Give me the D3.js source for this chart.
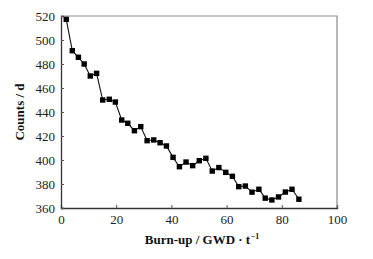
<!DOCTYPE html>
<html><head><meta charset="utf-8">
<script src="https://cdn.jsdelivr.net/npm/d3@7"></script>
<style>html,body{margin:0;padding:0;background:#fff;}svg{display:block;}</style>
</head><body>
<script>
const burnup = [1.9,4.1,6.3,8.4,10.6,12.9,15.1,17.5,19.7,22.0,24.2,26.6,28.9,31.2,33.6,35.9,38.2,40.6,42.9,45.3,47.7,50.1,52.5,54.8,57.2,59.7,62.1,64.4,66.8,69.2,71.7,74.0,76.4,78.8,81.3,83.7,86.2];
const counts = [517.2,491.1,485.6,480,470,472.2,450,450.6,448.3,433.3,430.6,424.4,427.8,416.1,416.7,414.4,411.7,402.2,394.4,398.3,395.3,399.4,401.4,390.8,393.7,389.7,386.4,377.8,378.3,373.2,375.6,368.2,366.7,369.2,373.3,375.6,367.3];
const xTicks = [0,20,40,60,80,100];
const yTicks = [360,380,400,420,440,460,480,500,520];
const xTitle = "Burn-up / GWD · t";
const yTitle = "Counts / d";

const W=373,H=259;
const m={l:61,r:36,t:16,b:51};
const svg=d3.select("body").append("svg").attr("width",W).attr("height",H);
const x=d3.scaleLinear().domain([0,100]).range([m.l,W-m.r]);
const y=d3.scaleLinear().domain([360,520]).range([H-m.b,m.t]);
const font="'Liberation Serif','Times New Roman',serif";

svg.append("path").attr("d",`M${x(0)},${y(520)}H${x(100)}V${y(360)}`).attr("fill","none").attr("stroke","#8a8a8a").attr("stroke-width",1.2);

const xa=svg.append("g").attr("transform",`translate(0,${y(360)})`)
  .call(d3.axisBottom(x).tickValues(xTicks).tickSize(-3).tickPadding(7).tickFormat(d3.format("d")));
const ya=svg.append("g").attr("transform",`translate(${x(0)},0)`)
  .call(d3.axisLeft(y).tickValues(yTicks).tickSize(-3).tickPadding(6).tickFormat(d3.format("d")));
[xa,ya].forEach(a=>{
  a.select(".domain").attr("stroke","#333").attr("stroke-width",1.3);
  a.selectAll(".tick line").attr("stroke","#555");
  a.selectAll("text").attr("font-family",font).attr("font-size",13).attr("fill","#222");
});

const line=d3.line().x((d,i)=>x(burnup[i])).y(d=>y(d));
svg.append("path").datum(counts).attr("d",line).attr("fill","none").attr("stroke","#111").attr("stroke-width",1.1);
svg.selectAll("rect.pt").data(counts).enter().append("rect").attr("class","pt")
  .attr("x",(d,i)=>x(burnup[i])-2.7).attr("y",d=>y(d)-2.7).attr("width",5.4).attr("height",5.4).attr("fill","#000");

const xt=svg.append("text").attr("x",(x(0)+x(100))/2+3).attr("y",244).attr("text-anchor","middle")
  .attr("font-family",font).attr("font-size",13).attr("font-weight","bold").attr("fill","#111");
xt.append("tspan").text(xTitle);
xt.append("tspan").attr("dy",-5).attr("dx",0.5).attr("font-size",8).text("−1");

svg.append("text").attr("transform",`translate(24,${(y(360)+y(520))/2}) rotate(-90)`).attr("text-anchor","middle")
  .attr("font-family",font).attr("font-size",13).attr("font-weight","bold").attr("fill","#111").text(yTitle);
</script>
</body></html>
